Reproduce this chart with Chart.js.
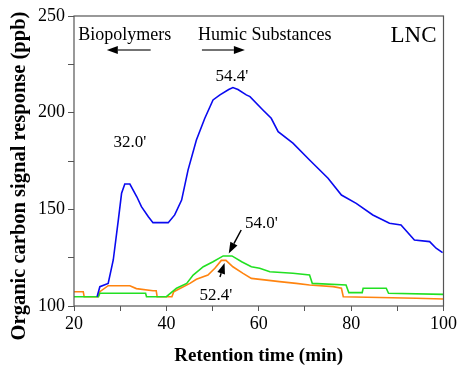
<!DOCTYPE html>
<html>
<head>
<meta charset="utf-8">
<script src="https://cdn.jsdelivr.net/npm/chart.js@4/dist/chart.umd.min.js"></script>
<style>
  html, body { margin: 0; padding: 0; background: #fff; }
  #wrap { width: 459px; height: 370px; }
</style>
</head>
<body>
<div id="wrap"><canvas id="lncChart" width="459" height="370"></canvas></div>
<script>
// retention time (min) / signal (ppb) for each sample trace
const blueTime = [25.0, 25.6, 27.4, 28.5, 29.6, 30.3, 31.0, 32.1, 33.6, 34.6, 36.1, 37.1, 40.4, 41.8, 43.3, 44.7, 46.5, 48.3, 50.1, 51.6, 53.5, 54.4, 55.5, 57.3, 58.1, 60.9, 62.7, 64.2, 67.4, 71.0, 75.0, 77.9, 81.1, 84.7, 88.3, 90.8, 93.7, 97.0, 98.4, 99.8];
const blueSignal = [104.8, 110.0, 111.7, 123.8, 144.5, 158.3, 163.1, 163.1, 156.5, 151.4, 146.2, 143.1, 143.1, 147.1, 154.8, 170.4, 185.9, 197.0, 206.6, 209.2, 212.0, 213.0, 212.0, 209.2, 208.3, 201.4, 197.1, 190.2, 184.2, 175.5, 166.1, 157.4, 153.1, 147.1, 142.8, 141.9, 134.1, 133.3, 129.9, 127.6];

const greenTime = [20, 25.3, 25.6, 35.5, 35.7, 40.0, 42.2, 44.4, 45.8, 48.0, 50.1, 52.3, 54.2, 56.3, 58.4, 60.2, 62.4, 67.4, 71.0, 71.6, 78.9, 79.5, 82.4, 82.6, 87.6, 88.1, 100];
const greenSignal = [104.8, 104.8, 106.6, 106.6, 104.8, 104.8, 109.2, 111.7, 116.0, 120.3, 122.9, 125.9, 125.9, 122.9, 120.3, 119.5, 117.7, 116.9, 116.0, 111.7, 110.9, 106.9, 106.9, 109.2, 109.2, 106.6, 106.0];

const orangeTime = [20, 22.0, 22.2, 25.2, 25.6, 27.4, 32.1, 33.5, 37.1, 37.8, 38.0, 41.2, 41.6, 45.1, 46.5, 49.0, 50.5, 51.9, 52.9, 54.4, 56.6, 58.4, 61.7, 64.5, 68.1, 71.0, 76.1, 77.9, 78.3, 94.1, 100];
const orangeSignal = [107.4, 107.4, 104.8, 104.8, 107.4, 110.5, 110.5, 109.0, 107.9, 107.9, 104.8, 104.8, 107.4, 111.7, 113.8, 116.0, 119.5, 123.6, 123.6, 120.3, 116.9, 114.3, 113.4, 112.6, 111.7, 110.9, 110.0, 109.2, 104.8, 104.0, 103.6];

const xTicks = [20, 40, 60, 80, 100];
const yTicks = [100, 150, 200, 250];

function pairs(xs, ys) {
  return xs.map((x, i) => ({ x: x, y: ys[i] }));
}

const serif = "'Liberation Serif', 'Times New Roman', serif";
const yTitle = "Organic carbon signal response (ppb)";

// text labels and arrows placed in data coordinates
const notes = [
  { text: "32.0'", x: 32.1, y: 184.3, size: 17 },
  { text: "54.4'", x: 54.2, y: 218.5, size: 17 },
  { text: "54.0'", x: 60.6, y: 142.6, size: 17 },
  { text: "52.4'", x: 50.7, y: 105.6, size: 17 },
  { text: "Biopolymers", x: 31.0, y: 240.2, size: 18 },
  { text: "Humic Substances", x: 61.3, y: 240.2, size: 18 },
  { text: "LNC", x: 93.5, y: 239.7, size: 23 }
];
const arrows = [
  { from: [36.6, 232.4], to: [27.1, 232.4], color: "#444" },
  { from: [47.7, 232.4], to: [57.0, 232.4], color: "#444" },
  { from: [56.2, 139.3], to: [53.5, 127.2], color: "#000" },
  { from: [51.6, 115.0], to: [52.6, 122.3], color: "#000" }
];

const annotate = {
  id: "annotate",
  afterDatasetsDraw(chart) {
    const ctx = chart.ctx;
    const xs = chart.scales.x, ys = chart.scales.y;
    const a = chart.chartArea;
    ctx.save();
    // frame around the plot
    ctx.strokeStyle = "#555";
    ctx.lineWidth = 1.2;
    ctx.strokeRect(a.left, a.top, a.right - a.left, a.bottom - a.top);

    ctx.fillStyle = "#000";
    ctx.textAlign = "center";
    ctx.textBaseline = "middle";
    notes.forEach(n => {
      ctx.font = n.size + "px " + serif;
      ctx.fillText(n.text, xs.getPixelForValue(n.x), ys.getPixelForValue(n.y));
    });

    // vertical axis title, sits a little below the plot centre
    ctx.save();
    ctx.translate(20, 176);
    ctx.rotate(-Math.PI / 2);
    ctx.font = "bold 20.5px " + serif;
    ctx.fillText(yTitle, 0, 0);
    ctx.restore();

    arrows.forEach(ar => {
      const x0 = xs.getPixelForValue(ar.from[0]), y0 = ys.getPixelForValue(ar.from[1]);
      const x1 = xs.getPixelForValue(ar.to[0]), y1 = ys.getPixelForValue(ar.to[1]);
      const ang = Math.atan2(y1 - y0, x1 - x0);
      const head = 11, wing = 4;
      ctx.strokeStyle = ar.color;
      ctx.fillStyle = ar.color;
      ctx.lineWidth = 1.5;
      ctx.beginPath();
      ctx.moveTo(x0, y0);
      ctx.lineTo(x1 - head * Math.cos(ang), y1 - head * Math.sin(ang));
      ctx.stroke();
      ctx.fillStyle = "#000";
      ctx.beginPath();
      ctx.moveTo(x1, y1);
      ctx.lineTo(x1 - head * Math.cos(ang) + wing * Math.sin(ang), y1 - head * Math.sin(ang) - wing * Math.cos(ang));
      ctx.lineTo(x1 - head * Math.cos(ang) - wing * Math.sin(ang), y1 - head * Math.sin(ang) + wing * Math.cos(ang));
      ctx.closePath();
      ctx.fill();
    });
    ctx.restore();
  }
};

const lineStyle = { borderWidth: 1.6, pointRadius: 0, tension: 0, fill: false };

new Chart(document.getElementById("lncChart").getContext("2d"), {
  type: "line",
  data: {
    datasets: [
      Object.assign({ label: "blue", data: pairs(blueTime, blueSignal), borderColor: "#0a0af0" }, lineStyle),
      Object.assign({ label: "green", data: pairs(greenTime, greenSignal), borderColor: "#22e022" }, lineStyle),
      Object.assign({ label: "orange", data: pairs(orangeTime, orangeSignal), borderColor: "#ff8410" }, lineStyle)
    ]
  },
  options: {
    responsive: false,
    animation: false,
    events: [],
    layout: { padding: { left: 0, top: 16, right: 15, bottom: 0 } },
    plugins: { legend: { display: false }, tooltip: { enabled: false } },
    scales: {
      x: {
        type: "linear",
        min: 20,
        max: 100,
        afterFit(scale) { scale.height = 64; },
        border: { display: false },
        grid: { drawOnChartArea: false, tickLength: 5, color: "#555" },
        ticks: {
          stepSize: 10,
          autoSkip: false,
          maxRotation: 0,
          padding: 2,
          color: "#000",
          font: { family: serif, size: 18 },
          callback: v => (xTicks.includes(v) ? v : "")
        },
        title: {
          display: true,
          text: "Retention time (min)",
          color: "#000",
          font: { family: serif, size: 19, weight: "bold" },
          padding: { top: 0, bottom: 3 }
        }
      },
      y: {
        min: 100,
        max: 250,
        afterFit(scale) { scale.width = 74; },
        border: { display: false },
        grid: { drawOnChartArea: false, tickLength: 6, color: "#555" },
        ticks: {
          stepSize: 25,
          autoSkip: false,
          padding: 3,
          color: "#000",
          font: { family: serif, size: 18 },
          callback: v => (yTicks.includes(v) ? v : "")
        }
      }
    }
  },
  plugins: [annotate]
});
</script>
</body>
</html>
